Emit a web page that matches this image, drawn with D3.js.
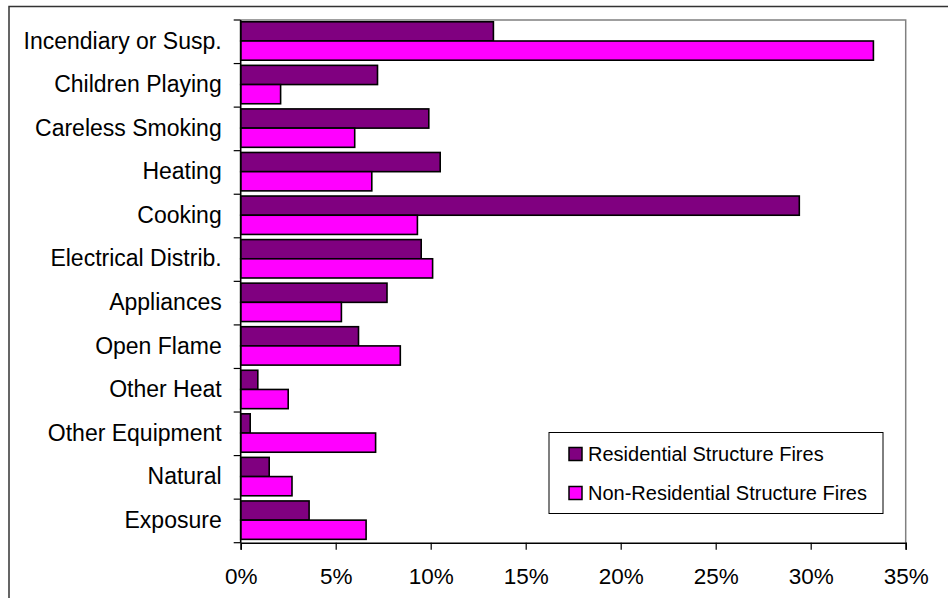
<!DOCTYPE html>
<html>
<head>
<meta charset="utf-8">
<script src="https://cdn.jsdelivr.net/npm/d3@7"></script>
<style>
  html, body { margin: 0; padding: 0; background: #fff; }
  svg { display: block; font-family: "Liberation Sans", Arial, sans-serif; }
</style>
</head>
<body>
<svg id="chart" width="948" height="598"></svg>
<script>
// Causes of structure fires, share of each group (%)
const categories = [
  "Incendiary or Susp.", "Children Playing", "Careless Smoking", "Heating",
  "Cooking", "Electrical Distrib.", "Appliances", "Open Flame",
  "Other Heat", "Other Equipment", "Natural", "Exposure"
];
const residential    = [13.3, 7.2, 9.9, 10.5, 29.4, 9.5, 7.7, 6.2, 0.9, 0.5, 1.5, 3.6];
const nonResidential = [33.3, 2.1, 6.0, 6.9, 9.3, 10.1, 5.3, 8.4, 2.5, 7.1, 2.7, 6.6];
const seriesNames  = ["Residential Structure Fires", "Non-Residential Structure Fires"];
const seriesColors = ["#800080", "#FF00FF"];
const xTicks = [0, 5, 10, 15, 20, 25, 30, 35];

const svg = d3.select("#chart");
const plot = { left: 240.7, right: 905.7, top: 20, bottom: 542.7 };

// Outer chart frame (top and left edges visible)
svg.append("path")
  .attr("d", `M9,598 L9,6.5 L948,6.5`)
  .attr("fill", "none").attr("stroke", "#333").attr("stroke-width", 1.5);

const x = d3.scaleLinear().domain([0, 35]).range([plot.left, plot.right]);
const y = d3.scaleBand().domain(categories).range([plot.top, plot.bottom]);

// Plot area border (top and right)
svg.append("path")
  .attr("d", `M${plot.left},${plot.top} L${plot.right},${plot.top} L${plot.right},${plot.bottom}`)
  .attr("fill", "none").attr("stroke", "#808080").attr("stroke-width", 1.5);

// Bars
const barH = 19.2, barOff = 1.8;
const rows = categories.map((c, i) => ({ c, vals: [residential[i], nonResidential[i]] }));
const g = svg.append("g");
rows.forEach(r => {
  r.vals.forEach((v, k) => {
    g.append("rect")
      .attr("x", x(0))
      .attr("y", y(r.c) + barOff + k * barH)
      .attr("width", x(v) - x(0))
      .attr("height", barH)
      .attr("fill", seriesColors[k])
      .attr("stroke", "#000")
      .attr("stroke-width", 1.6);
  });
});

// Category axis: ticks at band boundaries, labels centred in each band
const yAxisG = svg.append("g");
yAxisG.append("line")
  .attr("x1", plot.left).attr("x2", plot.left)
  .attr("y1", plot.top).attr("y2", plot.bottom)
  .attr("stroke", "#000").attr("stroke-width", 1.6);
const bounds = categories.map(c => y(c)).concat([plot.bottom]);
yAxisG.selectAll("line.tick").data(bounds).enter().append("line")
  .attr("class", "tick")
  .attr("x1", plot.left - 7).attr("x2", plot.left)
  .attr("y1", d => d).attr("y2", d => d)
  .attr("stroke", "#000").attr("stroke-width", 1.2);
yAxisG.selectAll("text").data(categories).enter().append("text")
  .attr("x", plot.left - 19)
  .attr("y", d => y(d) + y.bandwidth() / 2)
  .attr("dy", "0.3em")
  .attr("text-anchor", "end")
  .attr("font-size", 23)
  .attr("fill", "#000")
  .text(d => d);

// Value axis
const xAxis = d3.axisBottom(x)
  .tickValues(xTicks)
  .tickSize(7)
  .tickPadding(18)
  .tickFormat(d => d + "%");
const xAxisG = svg.append("g")
  .attr("transform", `translate(0,${plot.bottom})`)
  .call(xAxis);
xAxisG.select(".domain").attr("stroke", "#000").attr("stroke-width", 1.6);
xAxisG.selectAll(".tick line").attr("stroke", "#000").attr("stroke-width", 1.2);
xAxisG.selectAll(".tick text")
  .attr("font-size", 22.5)
  .attr("font-family", "'Liberation Sans', Arial, sans-serif")
  .attr("fill", "#000");

// Legend
const lg = svg.append("g").attr("transform", "translate(549,432.5)");
lg.append("rect")
  .attr("width", 334).attr("height", 81)
  .attr("fill", "#fff").attr("stroke", "#000").attr("stroke-width", 1);
seriesNames.forEach((name, k) => {
  const yy = 15 + k * 39;
  lg.append("rect")
    .attr("x", 20).attr("y", yy)
    .attr("width", 13).attr("height", 13)
    .attr("fill", seriesColors[k]).attr("stroke", "#000").attr("stroke-width", 1.5);
  lg.append("text")
    .attr("x", 39).attr("y", yy + 13)
    .attr("font-size", 20)
    .attr("fill", "#000")
    .text(name);
});
</script>
</body>
</html>
